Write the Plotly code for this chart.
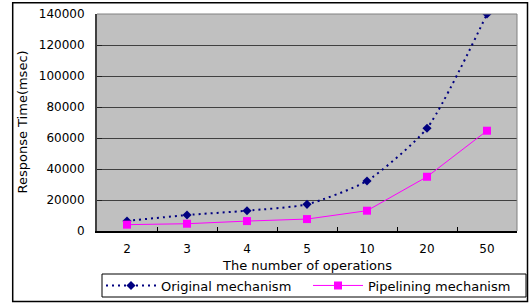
import plotly.graph_objects as go

categories = ["2", "3", "4", "5", "10", "20", "50"]
original = [6500, 10300, 13100, 17200, 32300, 66300, 140000]
pipelining = [4100, 4700, 6400, 7700, 13100, 35000, 64700]
y_ticks = [0, 20000, 40000, 60000, 80000, 100000, 120000, 140000]

W, H = 530, 304
L, R, T, B = 97, 13, 14, 73
pw, ph = W - L - R, H - T - B

def px(x):
    return (x - L) / pw

def py(y):
    return (H - B - y) / ph

font = dict(family="DejaVu Sans", size=12, color="#000000")
font_big = dict(family="DejaVu Sans", size=13, color="#000000")

fig = go.Figure()
fig.add_trace(go.Scatter(
    x=categories, y=original, name="Original mechanism",
    mode="lines+markers",
    line=dict(color="#000080", width=2, dash="2px,4px", shape="spline", smoothing=0.6),
    marker=dict(symbol="diamond", size=7, color="#000080"),
))
fig.add_trace(go.Scatter(
    x=categories, y=pipelining, name="Pipelining mechanism",
    mode="lines+markers",
    line=dict(color="#FF00FF", width=1),
    marker=dict(symbol="square", size=8, color="#FF00FF"),
))

fig.update_layout(
    width=W, height=H,
    margin=dict(l=L, r=R, t=T, b=B, autoexpand=False),
    paper_bgcolor="#FFFFFF",
    plot_bgcolor="#C0C0C0",
    font=font,
    showlegend=True,
    legend=dict(
        orientation="h", xref="container", yref="container",
        x=101 / W, y=1 - 285.5 / H, xanchor="left", yanchor="middle",
        borderwidth=0, bgcolor="rgba(0,0,0,0)",
        font=font_big, tracegroupgap=0, itemwidth=50,
        entrywidth=142,
    ),
    xaxis=dict(
        type="category", range=[-0.5, 6.5], automargin=False,
        showgrid=False, showline=True, linecolor="#000000", linewidth=2,
        ticks="inside", tickson="boundaries", ticklen=4, tickcolor="#000000",
        mirror=False, ticklabelstandoff=6,
        tickfont=font,
    ),
    yaxis=dict(
        range=[0, 140000], tickvals=y_ticks, ticktext=[str(v) for v in y_ticks],
        automargin=False,
        showgrid=True, gridcolor="#404040", gridwidth=1,
        showline=True, linecolor="#404040", linewidth=2,
        ticks="inside", ticklen=5, tickcolor="#202020",
        zeroline=False, tickfont=font, ticklabelstandoff=8,
    ),
    annotations=[
        dict(text="Response Time(msec)", xref="paper", yref="paper",
             x=px(22), y=0.5, textangle=-90, showarrow=False,
             xanchor="center", yanchor="middle", font=font_big),
        dict(text="The number of operations", xref="paper", yref="paper",
             x=0.5, y=py(265), showarrow=False,
             xanchor="center", yanchor="middle", font=font_big),
    ],
    shapes=[
        dict(type="rect", xref="paper", yref="paper",
             x0=px(12.7), x1=px(527.5), y0=py(301.5), y1=py(2.7),
             line=dict(color="#000000", width=1.5), layer="below"),
        dict(type="rect", xref="paper", yref="paper",
             x0=px(102), x1=px(526), y0=py(297), y1=py(274),
             line=dict(color="#000000", width=1), fillcolor="#FFFFFF", layer="below"),
        dict(type="line", xref="paper", yref="paper",
             x0=1, x1=1, y0=0, y1=1, line=dict(color="#808080", width=1)),
        dict(type="line", xref="paper", yref="paper",
             x0=0, x1=1, y0=1, y1=1, line=dict(color="#808080", width=1)),
    ],
)

fig.write_html("out.html", config={"displayModeBar": False},
               post_script="document.body.style.margin='0';document.body.style.overflow='hidden';")
